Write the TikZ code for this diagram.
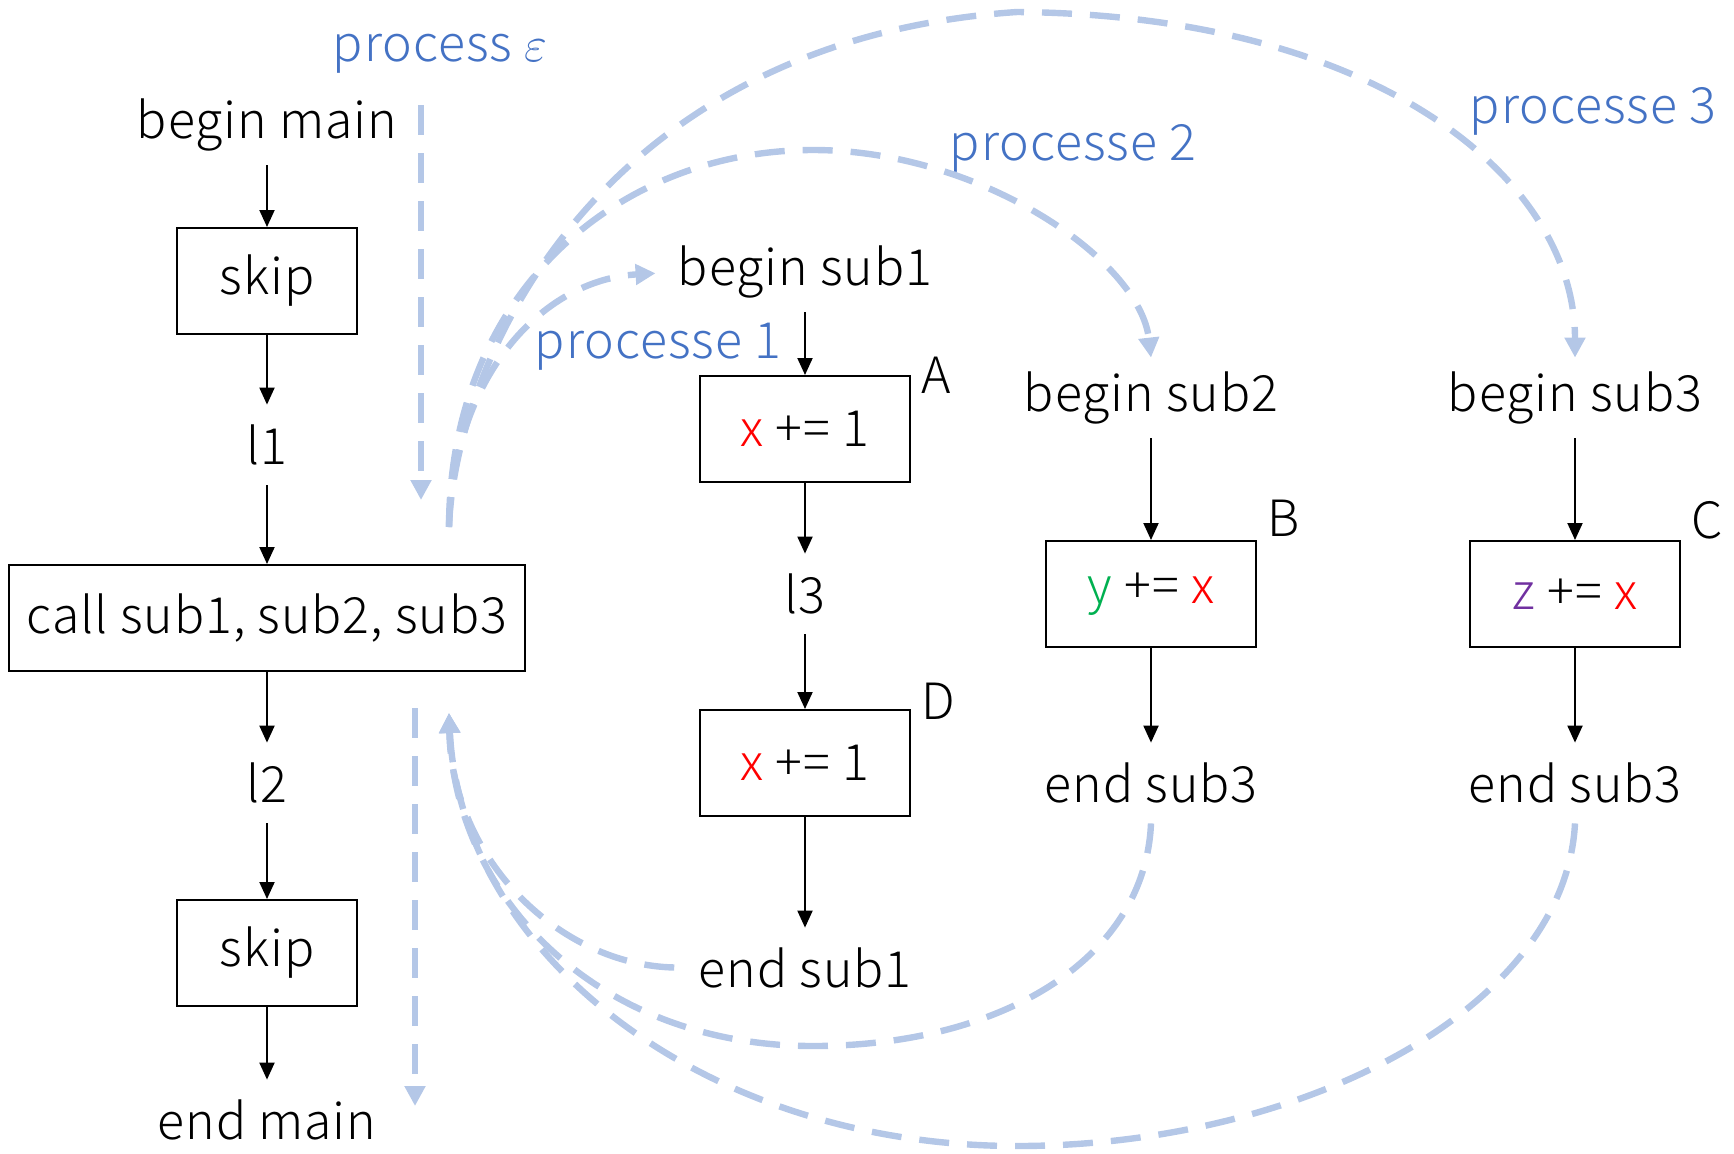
\documentclass[tikz,border=0pt]{standalone}
\usepackage{fontspec}
\setmainfont{Noto Sans CJK JP Light}[LetterSpace=2]
\usepackage{tikz}
\usetikzlibrary{positioning, arrows.meta, calc}

\definecolor{procblue}{HTML}{4472C4}
\definecolor{threadblue}{HTML}{B4C7E7}
\definecolor{varx}{HTML}{FF0000}
\definecolor{vary}{HTML}{00B050}
\definecolor{varz}{HTML}{7030A0}

\begin{document}
\begin{tikzpicture}[x=0.5pt, y=-0.5pt,
font=\fontsize{25}{29}\selectfont,
stmt/.style={rectangle, draw, line width=1pt, minimum width=90pt, minimum height=53pt, inner sep=0pt},
lbl/.style={inner sep=0pt, minimum height=40pt},
proc/.style={text=procblue, inner sep=0pt},
tag/.style={inner sep=0pt},
flow/.style={line width=1pt, -{Triangle[length=8.5pt,width=7.5pt]}},
thread/.style={threadblue, line width=3.2pt, dash pattern=on 15pt off 9pt, -{Triangle[length=10pt,width=10pt]}}]
    \useasboundingbox (0,0) rectangle (1734,1153);

    % main
    \node[lbl] (bmain) at (267,125) {begin main};
    \node[stmt] (skipa) at (267,281) {skip};
    \node[lbl] (l1) at (267,445) {l1};
    \node[stmt, minimum width=258pt] (call) at (267,618) {call sub1, sub2, sub3};
    \node[lbl] (l2) at (267,783) {l2};
    \node[stmt] (skipb) at (267,953) {skip};
    \node[lbl] (emain) at (267,1120) {end main};

    % sub1
    \node[lbl] (bs1) at (805,272) {begin sub1};
    \node[stmt, minimum width=105pt] (xa) at (805,429) {\textcolor{varx}{x} += 1};
    \node[lbl] (l3) at (805,594) {l3};
    \node[stmt, minimum width=105pt] (xd) at (805,763) {\textcolor{varx}{x} += 1};
    \node[lbl] (es1) at (805,968) {end sub1};

    % sub2
    \node[lbl] (bs2) at (1151,398) {begin sub2};
    \node[stmt, minimum width=105pt] (yb) at (1151,594) {\textcolor{vary}{y} += \textcolor{varx}{x}};
    \node[lbl] (es2) at (1151,783) {end sub3};

    % sub3
    \node[lbl] (bs3) at (1575,398) {begin sub3};
    \node[stmt, minimum width=105pt] (zc) at (1575,594) {\textcolor{varz}{z} += \textcolor{varx}{x}};
    \node[lbl] (es3) at (1575,783) {end sub3};

    \node[tag, right=5pt of xa.north east] {A};
    \node[tag, right=5pt of xd.north east, yshift=4pt] {D};
    \node[tag, right=5pt of yb.north east, yshift=11pt] {B};
    \node[tag, right=5pt of zc.north east, yshift=10pt] {C};

    \node[proc] (peps) at (440,54) {process $\varepsilon$};
    \node[proc] (p1) at (658,347) {processe 1};
    \node[proc] (p2) at (1073,148) {processe 2};
    \node[proc] (p3) at (1593,111) {processe 3};

    \foreach \a/\b in {bmain/skipa, skipa/l1, l1/call, call/l2, l2/skipb, skipb/emain,
                       bs1/xa, xa/l3, l3/xd, xd/es1, bs2/yb, yb/es2, bs3/zc, zc/es3}
        \draw[flow] (\a) -- (\b);

    \coordinate (fork) at (449,527);
    \coordinate (join) at (449,713);
    \coordinate (epsa) at (421,105);
    \coordinate (epsb) at (421,500);
    \coordinate (epsc) at (415,708);
    \coordinate (epsd) at (415,1106);

    \draw[thread] (epsa) -- (epsb);
    \draw[thread] (epsc) -- (epsd);
    \draw[thread, shorten >=11pt] (fork) .. controls (452,380) and (540,280) .. (bs1.west);
    \draw[thread] (fork) .. controls (450,290) and (620,150) .. (813,150)
        .. controls (980,150) and (1140,260) .. (bs2.north);
    \draw[thread] (fork) .. controls (455,360) and (600,40) .. (1017,12)
        .. controls (1380,15) and (1575,180) .. (bs3.north);
    \draw[thread, shorten <=12pt] (es1.west) .. controls (560,965) and (452,860) .. (join);
    \draw[thread] (es2.south) .. controls (1145,960) and (1000,1046) .. (813,1046)
        .. controls (600,1046) and (455,900) .. (join);
    \draw[thread] (es3.south) .. controls (1565,1010) and (1300,1146) .. (1017,1146)
        .. controls (700,1146) and (460,950) .. (join);
\end{tikzpicture}
\end{document}
